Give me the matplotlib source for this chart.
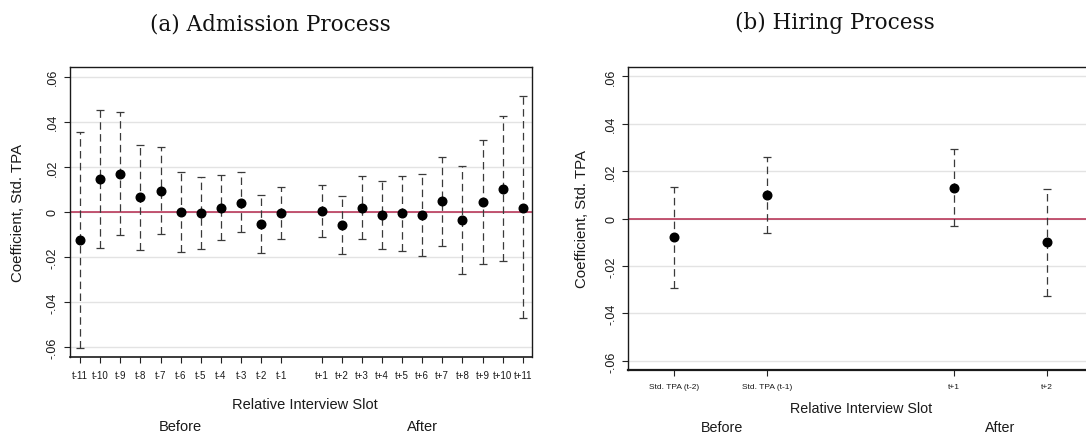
import matplotlib
matplotlib.use("Agg")
import matplotlib.pyplot as plt
import numpy as np

plt.rcParams['font.family'] = ['Liberation Sans', 'DejaVu Sans']

# ---------------- data ----------------
left_labels = ['t-11', 't-10', 't-9', 't-8', 't-7', 't-6', 't-5', 't-4', 't-3', 't-2', 't-1',
               't+1', 't+2', 't+3', 't+4', 't+5', 't+6', 't+7', 't+8', 't+9', 't+10', 't+11']
left_slot = [-11, -10, -9, -8, -7, -6, -5, -4, -3, -2, -1,
             1, 2, 3, 4, 5, 6, 7, 8, 9, 10, 11]
left_coef = [-0.0124, 0.0145, 0.0170, 0.0064, 0.0093, 0.0000, -0.0004, 0.0018, 0.0041, -0.0053, -0.0004,
             0.0004, -0.0058, 0.0018, -0.0012, -0.0007, -0.0012, 0.0047, -0.0036, 0.0044, 0.0101, 0.0019]
left_lo = [-0.0603, -0.0161, -0.0102, -0.0167, -0.0098, -0.0176, -0.0163, -0.0124, -0.0090, -0.0181, -0.0121,
           -0.0110, -0.0187, -0.0121, -0.0164, -0.0172, -0.0194, -0.0150, -0.0274, -0.0233, -0.0218, -0.0473]
left_hi = [0.0353, 0.0452, 0.0443, 0.0298, 0.0286, 0.0179, 0.0154, 0.0163, 0.0176, 0.0074, 0.0110,
           0.0120, 0.0070, 0.0159, 0.0138, 0.0159, 0.0167, 0.0243, 0.0204, 0.0320, 0.0424, 0.0513]

right_labels = ['Std. TPA (t-2)', 'Std. TPA (t-1)', 't+1', 't+2']
right_slot = [-2, -1, 1, 2]
right_coef = [-0.0080, 0.0101, 0.0129, -0.0101]
right_lo = [-0.0292, -0.0059, -0.0032, -0.0327]
right_hi = [0.0134, 0.0260, 0.0291, 0.0126]

y_ticks = [-0.06, -0.04, -0.02, 0.0, 0.02, 0.04, 0.06]
y_ticklabels = ['-.06', '-.04', '-.02', '0', '.02', '.04', '.06']

titles = ['(a) Admission Process', '(b) Hiring Process']
xlabel = 'Relative Interview Slot'
ylabel = 'Coefficient, Std. TPA'

# ---------------- layout ----------------
W, H = 1086, 435
fig = plt.figure(figsize=(W / 100, H / 100), dpi=100)


def rect(l, r, t, b):
    return [l / W, (H - b) / H, (r - l) / W, (b - t) / H]


def fx(x):
    return x / W


def fy(y):
    return (H - y) / H


TXT = '#1a1a1a'


def panel(ax, slots, coef, lo, hi, labels, xlim, ylim, xtick_fs, bottom_lw):
    coef = np.asarray(coef)
    lo = np.asarray(lo)
    hi = np.asarray(hi)
    ax.set_xlim(*xlim)
    ax.set_ylim(*ylim)
    for yt in y_ticks:
        ax.axhline(yt, color='#e3e3e3', lw=1.0, zorder=0.5)
    ax.axhline(0, color='#b5294e', lw=1.1, zorder=1.5)
    eb = ax.errorbar(slots, coef, yerr=[coef - lo, hi - coef], fmt='none',
                     ecolor='#3a3a3a', elinewidth=0.9, capsize=3.0, capthick=0.9,
                     zorder=2)
    eb[2][0].set_linestyle((0, (6, 3.5)))
    ax.plot(slots, coef, 'o', color='black', markersize=6.2, zorder=3)
    ax.set_yticks(y_ticks)
    ax.set_yticklabels(y_ticklabels, rotation=90, va='center', fontsize=9, color=TXT)
    ax.set_xticks(slots)
    ax.set_xticklabels(labels, fontsize=xtick_fs, color=TXT)
    ax.tick_params(axis='y', length=4, width=0.8, pad=4, color='#222')
    ax.tick_params(axis='x', length=4.5, width=0.8, pad=5, color='#222')
    for s in ax.spines.values():
        s.set_linewidth(1.0)
        s.set_color('#1a1a1a')
    ax.spines['bottom'].set_linewidth(bottom_lw)


# left panel
axL = fig.add_axes(rect(70, 532, 68, 358))
panel(axL, left_slot, left_coef, left_lo, left_hi, left_labels,
      (-11.5, 11.46), (-0.0644, 0.0643), 7, 1.2)

# right panel
axR = fig.add_axes(rect(628.3, 1092.4, 68, 371))
panel(axR, right_slot, right_coef, right_lo, right_hi, right_labels,
      (-2.49, 2.49), (-0.0638, 0.0638), 6, 1.6)

# y labels
fig.text(fx(18), fy(213), ylabel, rotation=90, ha='center', va='center', fontsize=10.8, color=TXT)
fig.text(fx(582), fy(219.5), ylabel, rotation=90, ha='center', va='center', fontsize=10.8, color=TXT)

# x labels + before/after
fig.text(fx(305), fy(405), xlabel, ha='center', va='center', fontsize=10.5, color=TXT)
fig.text(fx(180), fy(427), 'Before', ha='center', va='center', fontsize=10.5, color=TXT)
fig.text(fx(422), fy(427), 'After', ha='center', va='center', fontsize=10.5, color=TXT)

fig.text(fx(861), fy(409), xlabel, ha='center', va='center', fontsize=10.3, color=TXT)
fig.text(fx(722), fy(428), 'Before', ha='center', va='center', fontsize=10.3, color=TXT)
fig.text(fx(1000), fy(428), 'After', ha='center', va='center', fontsize=10.3, color=TXT)

# titles
fig.text(fx(270), fy(24), titles[0], ha='center', va='center', fontsize=15.5,
         family=['DejaVu Serif'], color='#111111')
fig.text(fx(835), fy(23), titles[1], ha='center', va='center', fontsize=15.5,
         family=['DejaVu Serif'], color='#111111')

fig.savefig('out.png', dpi=100)
